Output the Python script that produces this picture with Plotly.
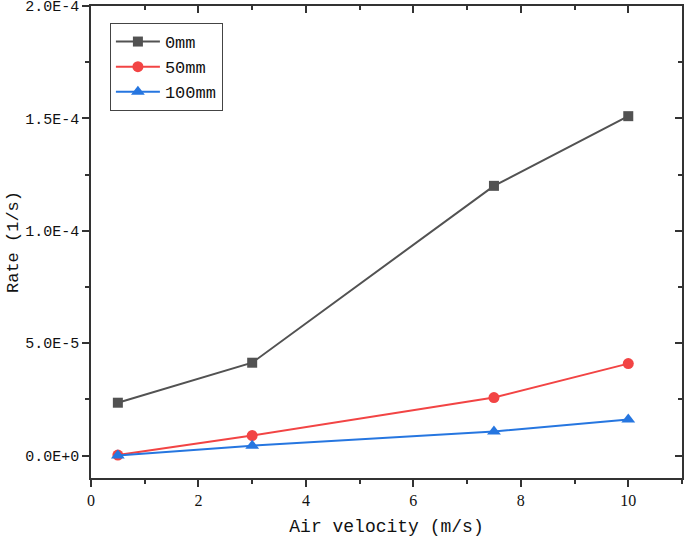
import plotly.graph_objects as go

air_velocity = [0.5, 3, 7.5, 10]
rate_0mm = [2.35e-5, 4.13e-5, 1.20e-4, 1.51e-4]
rate_50mm = [2e-7, 8.9e-6, 2.58e-5, 4.09e-5]
rate_100mm = [0.0, 4.4e-6, 1.07e-5, 1.60e-5]
series_names = ["0mm", "50mm", "100mm"]
y_tick_vals = [0, 5e-5, 1e-4, 1.5e-4, 2e-4]
y_tick_text = ["0.0E+0", "5.0E-5", "1.0E-4", "1.5E-4", "2.0E-4"]
x_tick_vals = [0, 2, 4, 6, 8, 10]

FONT = "Liberation Mono"
AX = "#333333"

fig = go.Figure()
styles = [
    ("#525252", "square", 10),
    ("#F24444", "circle", 11),
    ("#2676E0", "triangle-up", 12),
]
for name, ys, (col, sym, sz) in zip(series_names, [rate_0mm, rate_50mm, rate_100mm], styles):
    fig.add_trace(go.Scatter(
        x=air_velocity, y=ys, name=name, mode="lines+markers",
        line=dict(color=col, width=2),
        marker=dict(symbol=sym, size=sz, color=col),
        cliponaxis=False,
    ))

# invisible trace for mirrored axes
fig.add_trace(go.Scatter(x=[None], y=[None], xaxis="x2", yaxis="y2",
                         showlegend=False, hoverinfo="skip"))

xr = [0, 11]
yr = [-1e-5, 2.0002e-4]

common = dict(tickwidth=1.5, tickcolor=AX, showline=True, linecolor=AX,
              linewidth=1.5, showgrid=False, zeroline=False, automargin=False)

fig.update_layout(
    width=685, height=537,
    margin=dict(l=91, r=3, t=6, b=59, autoexpand=False),
    paper_bgcolor="white", plot_bgcolor="white",
    font=dict(family=FONT, color="#111111", size=15),
    showlegend=True,
    legend=dict(x=0.032, y=0.964, xanchor="left", yanchor="top",
                bordercolor="#444444", borderwidth=1, bgcolor="white",
                font=dict(family=FONT, size=17), tracegroupgap=0,
                itemwidth=44),
    xaxis=dict(range=xr, tickvals=x_tick_vals, ticks="outside", ticklen=7,
               minor=dict(dtick=1, tick0=0, ticks="outside", ticklen=4, tickwidth=1.5, tickcolor=AX),
               title=dict(text="Air velocity (m/s)", font=dict(family=FONT, size=18), standoff=12),
               tickfont=dict(family="Liberation Serif", size=16), ticklabeloverflow="allow",
               **common),
    yaxis=dict(range=yr, tickvals=y_tick_vals, ticktext=y_tick_text, ticks="outside",
               ticklen=7,
               minor=dict(dtick=2.5e-5, tick0=0, ticks="outside", ticklen=4, tickwidth=1.5, tickcolor=AX),
               title=dict(text="Rate (1/s)", font=dict(family=FONT, size=17), standoff=2),
               tickfont=dict(family=FONT, size=15), ticklabeloverflow="allow", **common),
    xaxis2=dict(range=xr, overlaying="x", side="top", anchor="y", tickvals=x_tick_vals,
                ticks="inside", ticklen=7, showticklabels=False,
                minor=dict(dtick=1, tick0=0, ticks="inside", ticklen=4, tickwidth=1.5, tickcolor=AX),
                **common),
    yaxis2=dict(range=yr, overlaying="y", side="right", anchor="x", tickvals=y_tick_vals,
                ticks="inside", ticklen=7, showticklabels=False,
                minor=dict(dtick=2.5e-5, tick0=0, ticks="inside", ticklen=4, tickwidth=1.5, tickcolor=AX),
                **common),
)

fig.write_html("out.html", config={"displayModeBar": False},
               post_script="document.body.style.margin='0';")
